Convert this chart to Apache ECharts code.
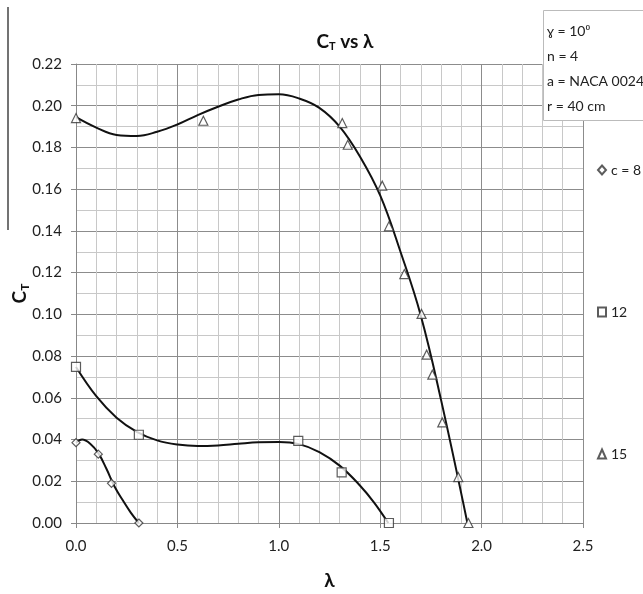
<!DOCTYPE html>
<html>
<head>
<meta charset="utf-8">
<script src="https://cdn.jsdelivr.net/npm/echarts@6/dist/echarts.min.js"></script>
<style>
  html, body { margin: 0; padding: 0; background: #fff; }
  #chart { width: 643px; height: 594px; }
</style>
</head>
<body>
<div id="chart"></div>
<script>
// Measured thrust coefficient C_T against tip speed ratio λ for three chord sizes
const lambda8  = [0, 0.11, 0.175, 0.31];
const ct8      = [0.0385, 0.033, 0.019, 0.0];
const lambda12 = [0, 0.31, 1.096, 1.31, 1.543];
const ct12     = [0.0748, 0.0423, 0.0394, 0.0243, 0.0];
const lambda15 = [0, 0.628, 1.313, 1.34, 1.51, 1.543, 1.619, 1.704, 1.729, 1.757, 1.806, 1.885, 1.935];
const ct15     = [0.1941, 0.1928, 0.1917, 0.1813, 0.1617, 0.1422, 0.1193, 0.1002, 0.0807, 0.0711, 0.0482, 0.022, 0.0];

// Trend curves through each set of measurements
const trendLambda8  = [0, 0.03, 0.07, 0.11, 0.15, 0.19, 0.23, 0.27, 0.31];
const trendCt8      = [0.0385, 0.040, 0.038, 0.0335, 0.026, 0.0175, 0.011, 0.005, 0.0];
const trendLambda12 = [0, 0.1, 0.2, 0.3, 0.4, 0.5, 0.6, 0.7, 0.8, 0.9, 1.0, 1.1, 1.2, 1.3, 1.4, 1.47, 1.54];
const trendCt12     = [0.0748, 0.0608, 0.0505, 0.0437, 0.0396, 0.0376, 0.0369, 0.0372, 0.0380, 0.0387, 0.0388, 0.0378, 0.034, 0.0275, 0.018, 0.0098, 0.0];
const trendLambda15 = [0, 0.1, 0.2, 0.3, 0.4, 0.5, 0.6, 0.7, 0.8, 0.9, 1.0, 1.1, 1.2, 1.3, 1.4, 1.5, 1.6, 1.7, 1.8, 1.93];
const trendCt15     = [0.1945, 0.1895, 0.186, 0.1855, 0.1875, 0.191, 0.1955, 0.1995, 0.2030, 0.2052, 0.2055, 0.2035, 0.199, 0.190, 0.1757, 0.157, 0.130, 0.0995, 0.059, 0.0];

const seriesNames = ['c = 8', '12', '15'];
const infoLines = ['ɣ = 10⁰', 'n = 4', 'a = NACA 0024', 'r = 40 cm'];

const FONT = 'Lato, "Open Sans", sans-serif';

const pairs = (xs, ys) => xs.map((x, i) => [x, ys[i]]);

const markerStyle = { color: '#ffffff', borderColor: '#333333', borderWidth: 1.2 };

function markerSeries(name, xs, ys, symbol, size) {
  return {
    name: name,
    type: 'scatter',
    symbol: symbol,
    symbolSize: size,
    itemStyle: markerStyle,
    data: pairs(xs, ys),
    z: 5
  };
}

function trendSeries(xs, ys) {
  return {
    type: 'line',
    smooth: 0.4,
    showSymbol: false,
    symbol: 'none',
    lineStyle: { color: '#111111', width: 2 },
    data: pairs(xs, ys),
    z: 4,
    silent: true
  };
}

const chart = echarts.init(document.getElementById('chart'), null, { renderer: 'canvas' });

chart.setOption({
  backgroundColor: '#ffffff',
  animation: false,
  textStyle: { fontFamily: FONT },
  title: {
    text: '{c|C}{s|T}{c| vs λ}',
    left: 340,
    top: 26,
    textAlign: 'center',
    textStyle: {
      rich: {
        c: { fontFamily: FONT, fontSize: 19, fontWeight: 'bold', color: '#111' },
        s: { fontFamily: FONT, fontSize: 11, fontWeight: 'bold', color: '#111', verticalAlign: 'bottom', padding: [10, 0, 0, 0] }
      }
    }
  },
  grid: { left: 76, right: 60, top: 64, bottom: 71, containLabel: false, outerBoundsMode: 'none' },
  legend: {
    orient: 'vertical',
    left: 592,
    top: 158,
    itemGap: 128,
    itemWidth: 8,
    itemHeight: 9,
    textStyle: { fontFamily: FONT, fontSize: 14, color: '#222' },
    data: [
      { name: seriesNames[0], icon: 'diamond' },
      { name: seriesNames[1], icon: 'rect' },
      { name: seriesNames[2], icon: 'triangle' }
    ]
  },
  xAxis: {
    type: 'value',
    min: 0,
    max: 2.5,
    interval: 0.5,
    name: 'λ',
    nameLocation: 'middle',
    nameGap: 48,
    nameMoveOverlap: false,
    nameTextStyle: { fontFamily: FONT, fontSize: 19, fontWeight: 'bold', color: '#111' },
    axisLine: { show: true, lineStyle: { color: '#888', width: 1 } },
    axisTick: { show: true, length: 5, lineStyle: { color: '#888' } },
    axisLabel: { margin: 16, fontSize: 15, color: '#222', formatter: v => v.toFixed(1) },
    splitLine: { show: true, lineStyle: { color: '#8c8c8c', width: 1 } },
    minorTick: { show: false, splitNumber: 5 },
    minorSplitLine: { show: true, lineStyle: { color: '#c8c8c8', width: 1 } }
  },
  yAxis: {
    type: 'value',
    min: 0,
    max: 0.22,
    interval: 0.02,
    name: '{c|C}{s|T}',
    nameLocation: 'middle',
    nameGap: 45,
    nameMoveOverlap: false,
    nameRotate: 90,
    nameTextStyle: {
      rich: {
        c: { fontFamily: FONT, fontSize: 19, fontWeight: 'bold', color: '#111' },
        s: { fontFamily: FONT, fontSize: 12, fontWeight: 'bold', color: '#111', verticalAlign: 'bottom', padding: [10, 0, 0, 0] }
      }
    },
    axisLine: { show: true, lineStyle: { color: '#888', width: 1 } },
    axisTick: { show: true, length: 5, lineStyle: { color: '#888' } },
    axisLabel: { margin: 14, fontSize: 15, color: '#222', formatter: v => v.toFixed(2) },
    splitLine: { show: true, lineStyle: { color: '#8c8c8c', width: 1 } },
    minorTick: { show: false, splitNumber: 2 },
    minorSplitLine: { show: true, lineStyle: { color: '#c8c8c8', width: 1 } }
  },
  graphic: [
    {
      type: 'line',
      shape: { x1: 8, y1: 7, x2: 8, y2: 230 },
      style: { stroke: '#444', lineWidth: 1.5 }
    },
    {
      type: 'rect',
      shape: { x: 543.5, y: 10.5, width: 110, height: 110 },
      style: { fill: '#ffffff', stroke: '#bbbbbb', lineWidth: 1 },
      z: 100
    },
    {
      type: 'group',
      left: 547,
      top: 24,
      z: 101,
      children: infoLines.map((t, i) => ({
        type: 'text',
        x: 0,
        y: i * 25,
        style: { text: t, fontFamily: FONT, fontSize: 14, fill: '#222' },
        z: 101
      }))
    }
  ],
  series: [
    markerSeries(seriesNames[0], lambda8, ct8, 'diamond', 8),
    markerSeries(seriesNames[1], lambda12, ct12, 'rect', 9),
    markerSeries(seriesNames[2], lambda15, ct15, 'triangle', 9),
    trendSeries(trendLambda8, trendCt8),
    trendSeries(trendLambda12, trendCt12),
    trendSeries(trendLambda15, trendCt15)
  ]
});
</script>
</body>
</html>
